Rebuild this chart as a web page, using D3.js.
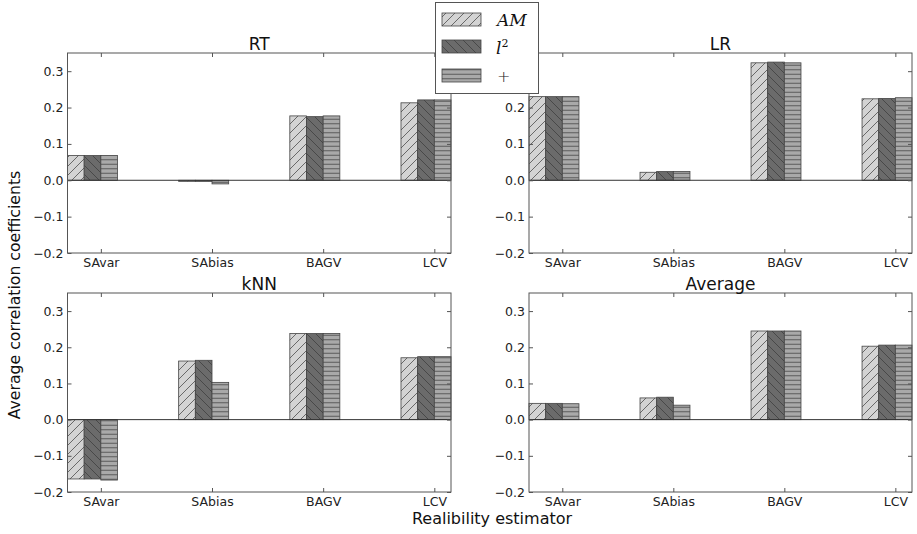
<!DOCTYPE html>
<html>
<head>
<meta charset="utf-8">
<script src="https://d3js.org/d3.v7.min.js"></script>
<style>
  body { margin: 0; background: #fff; }
  svg { font-family: "DejaVu Sans", sans-serif; }
</style>
</head>
<body>
<svg width="917" height="534"></svg>
<script>
// estimators on the x axis
var categories = ["SAvar", "SAbias", "BAGV", "LCV"];
var seriesNames = ["AM", "l2", "plus"];
var yTicks = [-0.2, -0.1, 0.0, 0.1, 0.2, 0.3];

// one array per model, rows = estimator, cols = AM / l^2 / +
var rtValues  = [[0.068, 0.068, 0.068], [-0.003, -0.003, -0.010], [0.177, 0.175, 0.177], [0.213, 0.221, 0.221]];
var lrValues  = [[0.230, 0.230, 0.230], [0.022, 0.024, 0.024], [0.323, 0.325, 0.323], [0.224, 0.225, 0.227]];
var knnValues = [[-0.164, -0.164, -0.167], [0.162, 0.164, 0.103], [0.238, 0.238, 0.238], [0.171, 0.174, 0.174]];
var avgValues = [[0.045, 0.045, 0.044], [0.060, 0.062, 0.040], [0.245, 0.245, 0.245], [0.203, 0.206, 0.206]];

var panels = [
  {title: "RT", values: rtValues, x0: 67.5, x1: 451, y0: 53, y1: 253},
  {title: "LR", values: lrValues, x0: 529, x1: 912, y0: 53, y1: 253},
  {title: "kNN", values: knnValues, x0: 67.5, x1: 451, y0: 293, y1: 492},
  {title: "Average", values: avgValues, x0: 529, x1: 912, y0: 293, y1: 492}
];

var fills = ["#d3d3d3", "#6b6b6b", "#a9a9a9"];
var barW = 0.15;

var svg = d3.select("svg");
var defs = svg.append("defs");

// hatch patterns
function hatch(id, fill, kind) {
  var p = defs.append("pattern").attr("id", id)
    .attr("patternUnits", "userSpaceOnUse")
    .attr("width", 9).attr("height", 9);
  p.append("rect").attr("width", 9).attr("height", 9).attr("fill", fill);
  var g = p.append("g").attr("stroke", "#3a3a3a").attr("stroke-width", 0.7).attr("fill", "none");
  if (kind == "/") {
    g.append("path").attr("d", "M-1,1 L1,-1 M0,9 L9,0 M8,10 L10,8");
  } else if (kind == "\\") {
    g.append("path").attr("d", "M-1,8 L1,10 M0,0 L9,9 M8,-1 L10,1");
  } else {
    g.append("path").attr("d", "M0,2.25 L9,2.25 M0,6.75 L9,6.75");
  }
}
hatch("h0", fills[0], "/");
hatch("h1", fills[1], "\\");
hatch("h2", fills[2], "-");

panels.forEach(function(p) {
  var x = d3.scaleLinear().domain([-0.3, 3.15]).range([p.x0, p.x1]);
  var y = d3.scaleLinear().domain([-0.2, 0.35]).range([p.y1, p.y0]);
  var g = svg.append("g");

  // bars
  p.values.forEach(function(row, i) {
    row.forEach(function(v, k) {
      var left = i - 2 * barW + k * barW;
      g.append("rect")
        .attr("x", x(left))
        .attr("width", x(left + barW) - x(left))
        .attr("y", y(Math.max(v, 0)))
        .attr("height", Math.abs(y(v) - y(0)))
        .attr("fill", "url(#h" + k + ")")
        .attr("stroke", "#444")
        .attr("stroke-width", 0.8);
    });
  });

  // zero line
  g.append("line")
    .attr("x1", p.x0).attr("x2", p.x1)
    .attr("y1", y(0)).attr("y2", y(0))
    .attr("stroke", "#333").attr("stroke-width", 1);

  // axes with inward ticks
  var left = d3.axisLeft(y).tickValues(yTicks).tickSize(-4).tickPadding(4)
    .tickFormat(function(d) { return d3.format(".1f")(d).replace("-", "\u2212"); });
  var ga = g.append("g").attr("transform", "translate(" + p.x0 + ",0)").call(left);
  ga.select(".domain").remove();
  ga.selectAll("text").attr("font-size", 12.5).attr("fill", "#222").attr("font-family", "DejaVu Sans");
  ga.selectAll("line").attr("stroke", "#555");

  var right = d3.axisRight(y).tickValues(yTicks).tickSize(-4).tickFormat("");
  var gr = g.append("g").attr("transform", "translate(" + p.x1 + ",0)").call(right);
  gr.select(".domain").remove();
  gr.selectAll("line").attr("stroke", "#555");

  var bottom = d3.axisBottom(x).tickValues(d3.range(categories.length)).tickSize(-4).tickPadding(5)
    .tickFormat(function(d) { return categories[d]; });
  var gb = g.append("g").attr("transform", "translate(0," + p.y1 + ")").call(bottom);
  gb.select(".domain").remove();
  gb.selectAll("text").attr("font-size", 12.5).attr("fill", "#222").attr("font-family", "DejaVu Sans");
  gb.selectAll("line").attr("stroke", "#555");

  var top = d3.axisTop(x).tickValues(d3.range(categories.length)).tickSize(-4).tickFormat("");
  var gt = g.append("g").attr("transform", "translate(0," + p.y0 + ")").call(top);
  gt.select(".domain").remove();
  gt.selectAll("line").attr("stroke", "#555");

  // frame
  g.append("rect")
    .attr("x", p.x0).attr("y", p.y0)
    .attr("width", p.x1 - p.x0).attr("height", p.y1 - p.y0)
    .attr("fill", "none").attr("stroke", "#555").attr("stroke-width", 1);

  g.append("text")
    .attr("x", (p.x0 + p.x1) / 2).attr("y", p.y0 - 3)
    .attr("text-anchor", "middle").attr("font-size", 17).attr("fill", "#111")
    .text(p.title);
});

// axis labels
svg.append("text")
  .attr("transform", "translate(20,295) rotate(-90)")
  .attr("text-anchor", "middle").attr("font-size", 15.7).attr("fill", "#111")
  .text("Average correlation coefficients");
svg.append("text")
  .attr("x", 492).attr("y", 524)
  .attr("text-anchor", "middle").attr("font-size", 16).attr("fill", "#111")
  .text("Realibility estimator");

// legend
var lg = svg.append("g");
lg.append("rect").attr("x", 435.5).attr("y", 2.5).attr("width", 103).attr("height", 91)
  .attr("fill", "#fff").attr("stroke", "#555").attr("stroke-width", 1);
var rowsY = [13, 40, 69];
seriesNames.forEach(function(s, k) {
  lg.append("rect").attr("x", 442).attr("y", rowsY[k]).attr("width", 39).attr("height", 13)
    .attr("fill", "url(#h" + k + ")").attr("stroke", "#444").attr("stroke-width", 0.8);
});
lg.append("text").attr("x", 497).attr("y", 26).attr("font-family", "DejaVu Serif")
  .attr("font-style", "italic").attr("font-size", 17).attr("fill", "#111").text("AM");
var l2 = lg.append("text").attr("x", 496).attr("y", 54).attr("font-family", "DejaVu Serif")
  .attr("font-size", 17).attr("fill", "#111");
l2.append("tspan").attr("font-style", "italic").text("l");
l2.append("tspan").attr("dy", -7).attr("font-size", 11).text("2");
lg.append("text").attr("x", 497).attr("y", 82).attr("font-family", "DejaVu Sans")
  .attr("font-weight", 200).attr("font-size", 16).attr("fill", "#222").text("+");
</script>
</body>
</html>
